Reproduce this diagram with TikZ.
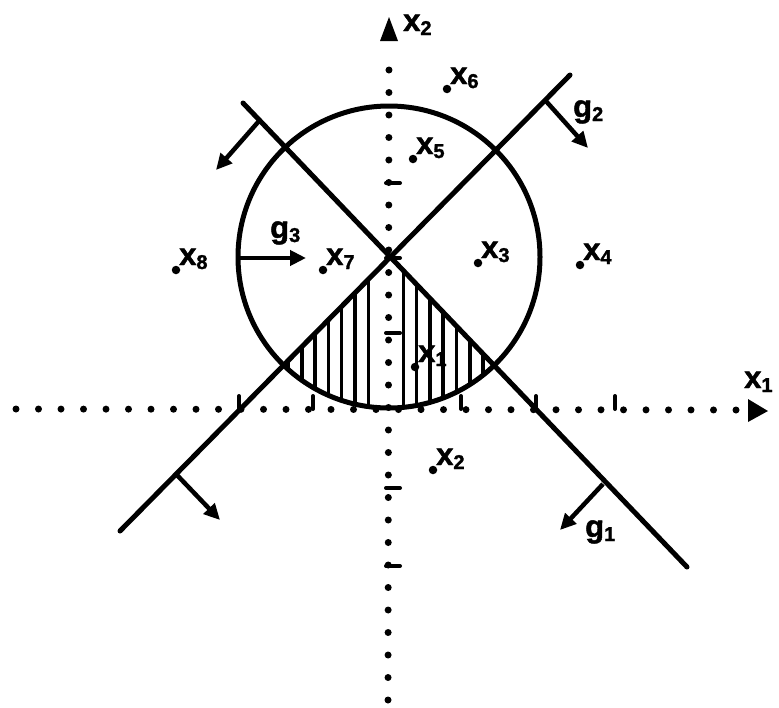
\documentclass[tikz,border=0pt]{standalone}
\usepackage{fontspec}
\setmainfont[BoldFeatures={FakeBold=1.5}]{Liberation Sans}
\usetikzlibrary{arrows.meta,calc}
\newcommand\subl[2]{#1\raisebox{-4pt}{\fontsize{20}{20}\selectfont #2}}
\begin{document}
\begin{tikzpicture}[x=1pt,y=-1pt,
 thickline/.style={line width=5pt, line cap=round},
 normalarrow/.style={line width=4.5pt, -{Triangle[length=16pt,width=15pt]}},
 pt/.style={circle, fill, inner sep=0pt, minimum size=8.5pt},
 lab/.style={font=\fontsize{31}{31}\selectfont\bfseries, inner sep=0pt, anchor=base west},
 axisdots/.style={line width=7pt, line cap=round, dash pattern=on 0pt off 22.5pt},
 tickmark/.style={line width=4pt, line cap=round},
 hatchline/.style={line width=3.5pt}]
\useasboundingbox (0,0) rectangle (779,707);
% axes
\coordinate (hL) at (16,409);
\coordinate (hR) at (736,410);
\draw[axisdots] (hL) -- (hR);
\fill (748,399) -- (768,411) -- (748,422) -- cycle;
\coordinate (vB) at (388,700);
\coordinate (vT) at (389,62);
\draw[axisdots] (vB) -- (vT);
\fill (389,17) -- (398,41) -- (380,41) -- cycle;
% ticks
\foreach \x in {239,313,461,536,615} \draw[tickmark] (\x,396) -- (\x,409);
\foreach \y in {183,258,333,488,566} \draw[tickmark] (386,\y) -- (400,\y);
% hatching
\begin{scope}
\clip (389,257) circle[radius=151];
\clip (390,257) -- (120,531) -- (687,567) -- cycle;
\foreach \x in {288.5,301.8,...,370} \draw[hatchline] (\x,240) -- (\x,420);
\foreach \x in {403.3,416.6,...,495} \draw[hatchline] (\x,240) -- (\x,420);
\end{scope}
% circle
\coordinate (C) at (389,257);
\draw[line width=5pt] (C) circle[radius=151];
% lines
\coordinate (g1a) at (243,103);
\coordinate (g1b) at (687,567);
\coordinate (g2a) at (120,531);
\coordinate (g2b) at (570,75);
\draw[thickline] (g1a) -- (g1b);
\draw[thickline] (g2a) -- (g2b);
% normals
\coordinate (f1a) at (259,121); \coordinate (t1a) at (216,170);
\coordinate (f1b) at (603,484); \coordinate (t1b) at (560,530);
\coordinate (f2a) at (545,100); \coordinate (t2a) at (588,148);
\coordinate (f2b) at (176,474); \coordinate (t2b) at (220,520);
\coordinate (f3) at (240,258); \coordinate (t3) at (306,258);
\draw[normalarrow] (f1a) -- (t1a);
\draw[normalarrow] (f1b) -- (t1b);
\draw[normalarrow] (f2a) -- (t2a);
\draw[normalarrow] (f2b) -- (t2b);
\draw[normalarrow] (f3) -- (t3);
% g labels
\node[lab] (lg1) at (585,537) {\subl{g}{1}};
\node[lab] (lg2) at (573,117) {\subl{g}{2}};
\node[lab] (lg3) at (270,238) {\subl{g}{3}};
% axis labels
\node[lab] (ax1) at (744,388) {\subl{x}{1}};
\node[lab] (ax2) at (403,31) {\subl{x}{2}};
% points
\node[pt] (p1) at (415,367) {};
\node[pt] (p2) at (433,470) {};
\node[pt] (p3) at (478,263) {};
\node[pt] (p4) at (580,265) {};
\node[pt] (p5) at (413,159) {};
\node[pt] (p6) at (447,89) {};
\node[pt] (p7) at (323,270) {};
\node[pt] (p8) at (176,270) {};
\node[lab] (l1) at ([shift={(3,-5)}]p1.center) {\subl{x}{1}};
\node[lab] (l2) at ([shift={(3,-5)}]p2.center) {\subl{x}{2}};
\node[lab] (l3) at ([shift={(3,-5)}]p3.center) {\subl{x}{3}};
\node[lab] (l4) at ([shift={(3,-5)}]p4.center) {\subl{x}{4}};
\node[lab] (l5) at ([shift={(3,-5)}]p5.center) {\subl{x}{5}};
\node[lab] (l6) at ([shift={(3,-5)}]p6.center) {\subl{x}{6}};
\node[lab] (l7) at ([shift={(3,-5)}]p7.center) {\subl{x}{7}};
\node[lab] (l8) at ([shift={(3,-5)}]p8.center) {\subl{x}{8}};
\end{tikzpicture}
\end{document}
